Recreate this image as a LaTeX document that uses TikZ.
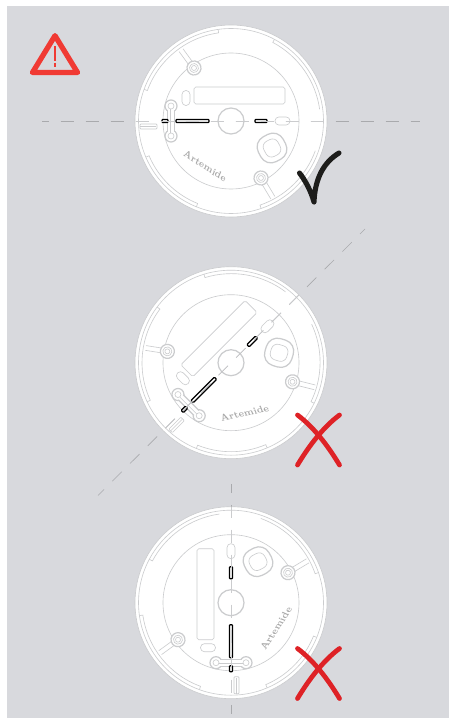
\documentclass[tikz,border=0pt]{standalone}
\usepackage{tikz}
\usepackage{xcolor}
\definecolor{panelgrey}{HTML}{D8D9DD}
\definecolor{partgrey}{HTML}{CBCCCE}
\definecolor{axisgrey}{HTML}{A9AAAD}
\definecolor{warnred}{HTML}{F03A33}
\definecolor{crossred}{HTML}{DE2226}
\definecolor{checkblack}{HTML}{1D1D1B}
\tikzstyle{part} = [draw=partgrey, line width=0.35pt]
\tikzstyle{thickpart} = [draw=partgrey, line width=0.7pt]
\tikzstyle{slot} = [draw=black, fill=white, line width=0.7pt, rounded corners=0.5pt]
\tikzstyle{axis} = [draw=axisgrey, line width=0.35pt, dash pattern=on 0.266cm off 0.234cm]
\tikzstyle{logo} = [text=black!34, font=\bfseries\fontsize{5.7}{6}\selectfont, inner sep=0pt, xscale=0.82, transform shape]
\tikzstyle{cross} = [draw=crossred, line width=2.7pt, line cap=round]

\newcommand{\screwpost}[4]{%
    \begin{scope}[shift={(#1,#2)}, rotate=#3]
        \draw [part] (6,2.4) -- (#4,2.4);
        \draw [part] (6,-2.4) -- (#4,-2.4);
        \draw [thickpart, fill=white] (0,0) circle [radius=7];
        \draw [part] (0,0) circle [radius=4.5];
        \draw [part] (0,0) circle [radius=2.5];
    \end{scope}
}

\newcommand{\fixture}[4]{%
    \begin{scope}[shift={(#1,#2)}, rotate=#3]
        % body and rim
        \draw [part, fill=white] (0,0) circle [radius=96];
        \draw [part] (0,0) circle [radius=92.5];
        \draw [part] (98:92.5) -- (98:89) arc [start angle=98, end angle=160, radius=89] -- (160:92.5);
        \draw [part] (62:92.5) -- (62:89) arc [start angle=62, end angle=8, radius=90];
        \draw [part] (-71:92.5) -- (-71:89) arc [start angle=-71, end angle=-20, radius=90];
        \draw [part] (203:92.5) -- (203:89) arc [start angle=203, end angle=248, radius=89] -- (248:92.5);
        \draw [part] (0,0) circle [radius=68];
        \draw [thickpart, fill=white] (0,0) circle [radius=13];
        % openings
        \draw [part, rounded corners=1pt] (-37,17) rectangle (54,34);
        \draw [part, rounded corners=2.2pt] (-49,15.5) rectangle (-41,30.5);
        \draw [part, rounded corners=2.2pt] (44,-4) rectangle (59,4);
        \begin{scope}[shift={(41,-27)}, rotate=28]
            \draw [thickpart, rounded corners=6.5pt] (-14,-14) rectangle (14,14);
            \draw [part, rounded corners=3.5pt] (-8,-8.5) rectangle (8,8.5);
        \end{scope}
        % posts and clamp
        \screwpost{-37}{53}{126}{22}
        \screwpost{30}{-57}{-59}{23}
        \draw [thickpart, fill=white] (-60,15) circle [radius=6];
        \draw [thickpart, fill=white] (-60,-15) circle [radius=6];
        \fill [white] (-63.5,-14) rectangle (-56.5,14);
        \draw [thickpart] (-63.5,-11) -- (-63.5,11);
        \draw [thickpart] (-56.5,-11) -- (-56.5,11);
        \draw [part] (-60.5,-12) -- (-60.5,12);
        \draw [part, fill=white] (-60,15) circle [radius=3];
        \draw [part, fill=white] (-60,-15) circle [radius=3];
        \draw [part, rounded corners=0.5pt] (-91,-8) rectangle (-74,-3);
        \draw [part] (-91,-5.5) -- (-75,-5.5);
        % slots
        \draw [slot] (-69,-1.6) rectangle (-63,1.6);
        \draw [slot] (-55,-1.6) rectangle (-22,1.6);
        \draw [slot] (24,-1.6) rectangle (36,1.6);
        \node (#4) [logo, rotate=-28] at (-26,-45) {Artemide};
    \end{scope}
}

\newcommand{\redcross}[2]{%
    \begin{scope}[shift={(#1,#2)}]
        \draw [cross] (-21,25) .. controls (-5,13) and (9,-5) .. (21,-25);
        \draw [cross] (21,25) .. controls (5,13) and (-9,-5) .. (-21,-25);
    \end{scope}
}

% centre line: grey on the panel, paler where it crosses the fixture
\newcommand{\centreline}[7]{%
    \draw [axis, dash phase=#5] (#1,#2) -- (#3,#4);
    \begin{scope}
        \clip (#6,#7) circle [radius=96];
        \draw [axis, draw=partgrey, dash phase=#5] (#1,#2) -- (#3,#4);
    \end{scope}
}

\begin{document}
\begin{tikzpicture}[x=0.02cm, y=0.02cm]
    \useasboundingbox (0,0) rectangle (449,718);
    \fill [panelgrey] (7,0) rectangle (449,712);

    \fixture{231}{597}{0}{logotop}
    \fixture{231}{355.3}{45}{logomiddle}
    \fixture{231}{115.3}{90}{logobottom}

    \centreline{42}{597}{420}{597}{0.126cm}{231}{597}
    \centreline{365}{489}{98}{222.5}{0.126cm}{231}{355.3}
    \centreline{231}{234}{231}{4}{0.08cm}{231}{115.3}

    % warning sign
    \draw [draw=warnred, line width=3pt, line join=round] (55,682.3) -- (77.5,645.5) -- (32.5,645.5) -- cycle;
    \draw [draw=warnred, line width=1.4pt] (55,672) -- (55,657);
    \draw [draw=warnred, line width=1.4pt] (55,655) -- (55,651);

    % verdict marks
    \draw [draw=checkblack, line width=2.9pt, line cap=round, line join=round] (299.5,545) .. controls (305,538) and (311,527) .. (314,516) .. controls (315,540) and (324,556) .. (339,565);
    \redcross{318.5}{278}
    \redcross{318.5}{44.5}
\end{tikzpicture}
\end{document}
